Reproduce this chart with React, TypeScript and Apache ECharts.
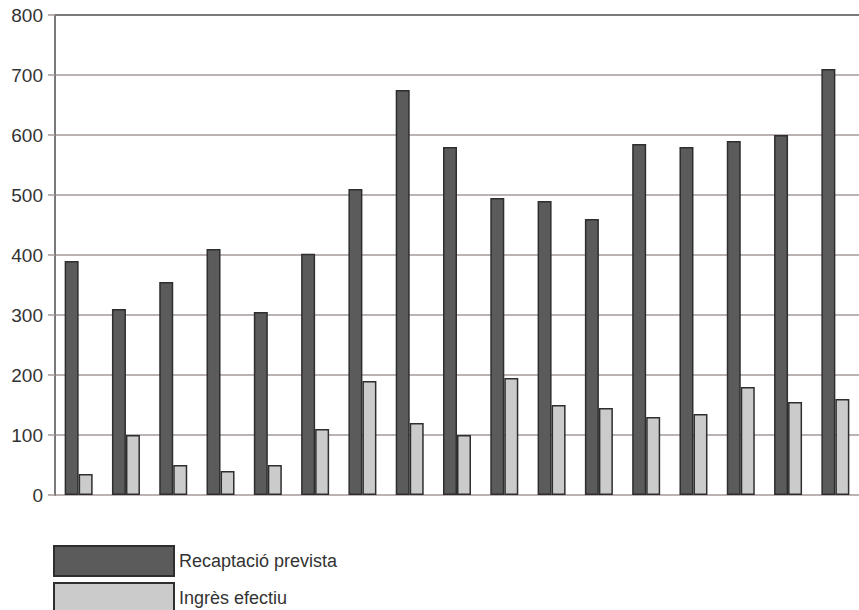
import React, { useEffect, useRef } from "react";
import * as echarts from "echarts";

const categories = ["1", "2", "3", "4", "5", "6", "7", "8", "9", "10", "11", "12", "13", "14", "15", "16", "17"];
const recaptacioPrevista = [390, 310, 355, 410, 305, 402, 510, 675, 580, 495, 490, 460, 585, 580, 590, 600, 710];
const ingresEfectiu = [35, 100, 50, 40, 50, 110, 190, 120, 100, 195, 150, 145, 130, 135, 180, 155, 160];
const yTicks = [0, 100, 200, 300, 400, 500, 600, 700, 800];

export default function App() {
  const ref = useRef<HTMLDivElement>(null);
  useEffect(() => {
    document.body.style.margin = "0";
    if (!ref.current) return;
    const chart = echarts.init(ref.current, undefined, { renderer: "svg" });
    const font = "'Liberation Sans', Arial, sans-serif";
    chart.setOption({
      animation: false,
      backgroundColor: "#ffffff",
      textStyle: { fontFamily: font },
      legend: {
        orient: "vertical",
        left: 53,
        top: 545,
        height: 70,
        padding: 0,
        itemWidth: 120,
        itemHeight: 30,
        itemGap: 5,
        icon: "rect",
        align: "left",
        textStyle: { fontSize: 18, color: "#333", fontFamily: font },
        data: ["Recaptació prevista", "Ingrès efectiu"],
      },
      grid: { left: 55, top: 15, right: -12, bottom: 115, containLabel: false },
      xAxis: [
        {
          type: "category",
          data: categories,
          axisLabel: { show: false },
          axisTick: { show: false },
          axisLine: { show: false },
        },
        {
          type: "category",
          data: categories,
          position: "top",
          axisLabel: { show: false },
          axisTick: { show: false },
          axisLine: { show: true, lineStyle: { color: "#7a7a7a", width: 2 } },
        },
      ],
      yAxis: {
        type: "value",
        min: yTicks[0],
        max: yTicks[yTicks.length - 1],
        interval: 100,
        axisLine: { show: true, lineStyle: { color: "#7a7a7a", width: 2 } },
        axisTick: { show: true, length: 7, lineStyle: { color: "#a49a98", width: 1.5 } },
        axisLabel: { fontSize: 19, color: "#333", margin: 12, fontFamily: font },
        splitLine: { show: true, lineStyle: { color: "#a49a98", width: 1.5 } },
      },
      series: [
        {
          name: "Recaptació prevista",
          type: "bar",
          data: recaptacioPrevista,
          barWidth: 14,
          barGap: "0%",
          itemStyle: { color: "#5c5b5b", borderColor: "#2e2e2e", borderWidth: 1.5 },
        },
        {
          name: "Ingrès efectiu",
          type: "bar",
          data: ingresEfectiu,
          barWidth: 14,
          barGap: "0%",
          itemStyle: { color: "#cbcbcb", borderColor: "#2e2e2e", borderWidth: 1.5 },
        },
      ],
    });
    return () => chart.dispose();
  }, []);
  return <div ref={ref} style={{ width: 859, height: 610 }} />;
}
